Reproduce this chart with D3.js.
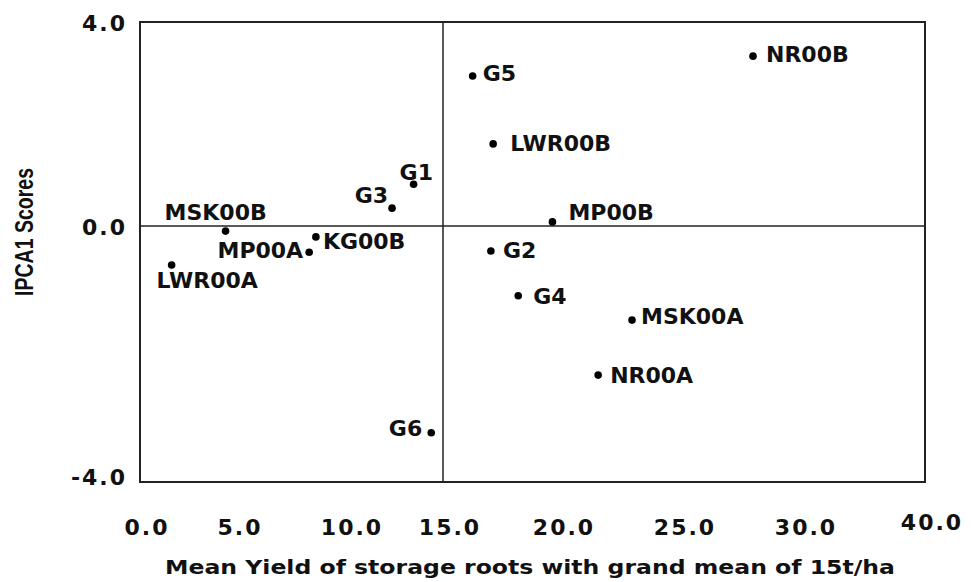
<!DOCTYPE html>
<html>
<head>
<meta charset="utf-8">
<script src="https://cdn.jsdelivr.net/npm/d3@7"></script>
<style>
  body { margin: 0; background: #fff; }
  svg { display: block; }
</style>
</head>
<body>
<script>
'use strict';

// point names and their values
const names = ["NR00B", "G5", "LWR00B", "G1", "G3", "MP00B", "MSK00B", "KG00B", "MP00A", "G2", "LWR00A", "G4", "MSK00A", "NR00A", "G6"];
const yieldValues = [28.1, 16.3, 17.2, 13.5, 12.4, 19.8, 4.6, 8.7, 8.4, 17.1, 1.7, 18.3, 23.1, 21.7, 14.4];
const ipcaValues = [3.33, 2.94, 1.61, 0.82, 0.35, 0.08, -0.08, -0.17, -0.41, -0.39, -0.61, -1.09, -1.47, -2.33, -3.23];

// tick labels
const xTicks = [0, 5, 10, 15, 20, 25, 30, 40];
const yTicks = [-4, 0, 4];
const grandMean = 15;

(function () {

    // layout: the original axis is not evenly spaced, so the scale is piecewise
    const xStops = [140, 233, 345, 443, 557, 678, 799, 925];
    const yStops = [482, 226, 22];

    // label placement relative to each dot: [dx, dy, anchor]
    const labelOffsets = {
        "NR00B": [13, -2, "start"],
        "G5": [10, -3, "start"],
        "LWR00B": [17, -1, "start"],
        "G1": [-14, -12, "start"],
        "G3": [-4, -13, "end"],
        "MP00B": [16, -10, "start"],
        "MSK00B": [-61, -19, "start"],
        "KG00B": [7, 4, "start"],
        "MP00A": [-6, -2, "end"],
        "G2": [12, -1, "start"],
        "LWR00A": [-15, 15, "start"],
        "G4": [15, 0, "start"],
        "MSK00A": [9, -4, "start"],
        "NR00A": [12, 0, "start"],
        "G6": [-9, -5, "end"]
    };

    const labelFont = "'DejaVu Sans', Verdana, sans-serif";

    const svg = d3.select('body')
        .append('svg')
        .attr('width', 973)
        .attr('height', 582);

    const xScale = d3.scaleLinear().domain(xTicks).range(xStops);
    const yScale = d3.scaleLinear().domain(yTicks).range(yStops);

    const x0 = xScale(0), x1 = xScale(40), y0 = yScale(4), y1 = yScale(-4);

    // frame
    svg.append('rect')
        .attr('x', x0)
        .attr('y', y0)
        .attr('width', x1 - x0)
        .attr('height', y1 - y0)
        .attr('fill', 'none')
        .attr('stroke', '#222')
        .attr('stroke-width', 2);

    // zero line and grand mean line
    svg.append('line')
        .attr('x1', x0).attr('x2', x1)
        .attr('y1', yScale(0)).attr('y2', yScale(0))
        .attr('stroke', '#222').attr('stroke-width', 1.5);

    svg.append('line')
        .attr('x1', xScale(grandMean)).attr('x2', xScale(grandMean))
        .attr('y1', y0).attr('y2', y1)
        .attr('stroke', '#222').attr('stroke-width', 1.5);

    // x tick labels
    svg.append('g')
        .selectAll('text')
        .data(xTicks)
        .enter()
        .append('text')
        .attr('x', d => xScale(d) + 7)
        .attr('y', d => d === 40 ? 522 : 527)
        .attr('dy', '0.36em')
        .attr('text-anchor', 'middle')
        .style('font-family', labelFont)
        .style('font-weight', 'bold')
        .style('font-size', '22px')
        .style('letter-spacing', '2px')
        .attr('fill', '#111')
        .text(d => d.toFixed(1));

    // y tick labels
    svg.append('g')
        .selectAll('text')
        .data(yTicks)
        .enter()
        .append('text')
        .attr('x', 127)
        .attr('y', d => yScale(d) + (d < 0 ? -5 : 1))
        .attr('dy', '0.36em')
        .attr('text-anchor', 'end')
        .style('font-family', labelFont)
        .style('font-weight', 'bold')
        .style('font-size', '22px')
        .style('letter-spacing', '2px')
        .attr('fill', '#111')
        .text(d => d.toFixed(1));

    // points
    const points = names.map((n, i) => ({ name: n, x: yieldValues[i], y: ipcaValues[i] }));

    svg.append('g')
        .selectAll('circle')
        .data(points)
        .enter()
        .append('circle')
        .attr('cx', d => xScale(d.x))
        .attr('cy', d => yScale(d.y))
        .attr('r', 3.8)
        .attr('fill', '#000');

    svg.append('g')
        .selectAll('text')
        .data(points)
        .enter()
        .append('text')
        .attr('x', d => xScale(d.x) + labelOffsets[d.name][0])
        .attr('y', d => yScale(d.y) + labelOffsets[d.name][1])
        .attr('dy', '0.36em')
        .attr('text-anchor', d => labelOffsets[d.name][2])
        .style('font-family', labelFont)
        .style('font-weight', 'bold')
        .style('font-size', '22px')
        .attr('fill', '#111')
        .text(d => d.name);

    // axis titles
    svg.append('text')
        .attr('x', 530)
        .attr('y', 567)
        .attr('dy', '0.36em')
        .attr('text-anchor', 'middle')
        .attr('textLength', 730)
        .attr('lengthAdjust', 'spacingAndGlyphs')
        .style('font-family', labelFont)
        .style('font-weight', 'bold')
        .style('font-size', '20px')
        .attr('fill', '#111')
        .text('Mean Yield of storage roots with grand mean of 15t/ha');

    svg.append('text')
        .attr('transform', 'translate(24, 232)rotate(-90)')
        .attr('dy', '0.36em')
        .attr('text-anchor', 'middle')
        .attr('textLength', 128)
        .attr('lengthAdjust', 'spacingAndGlyphs')
        .style('font-family', "'Liberation Sans Narrow', 'Liberation Sans', Arial, sans-serif")
        .style('font-weight', 'bold')
        .style('font-size', '25px')
        .attr('fill', '#111')
        .text('IPCA1 Scores');

})();
</script>
</body>
</html>
